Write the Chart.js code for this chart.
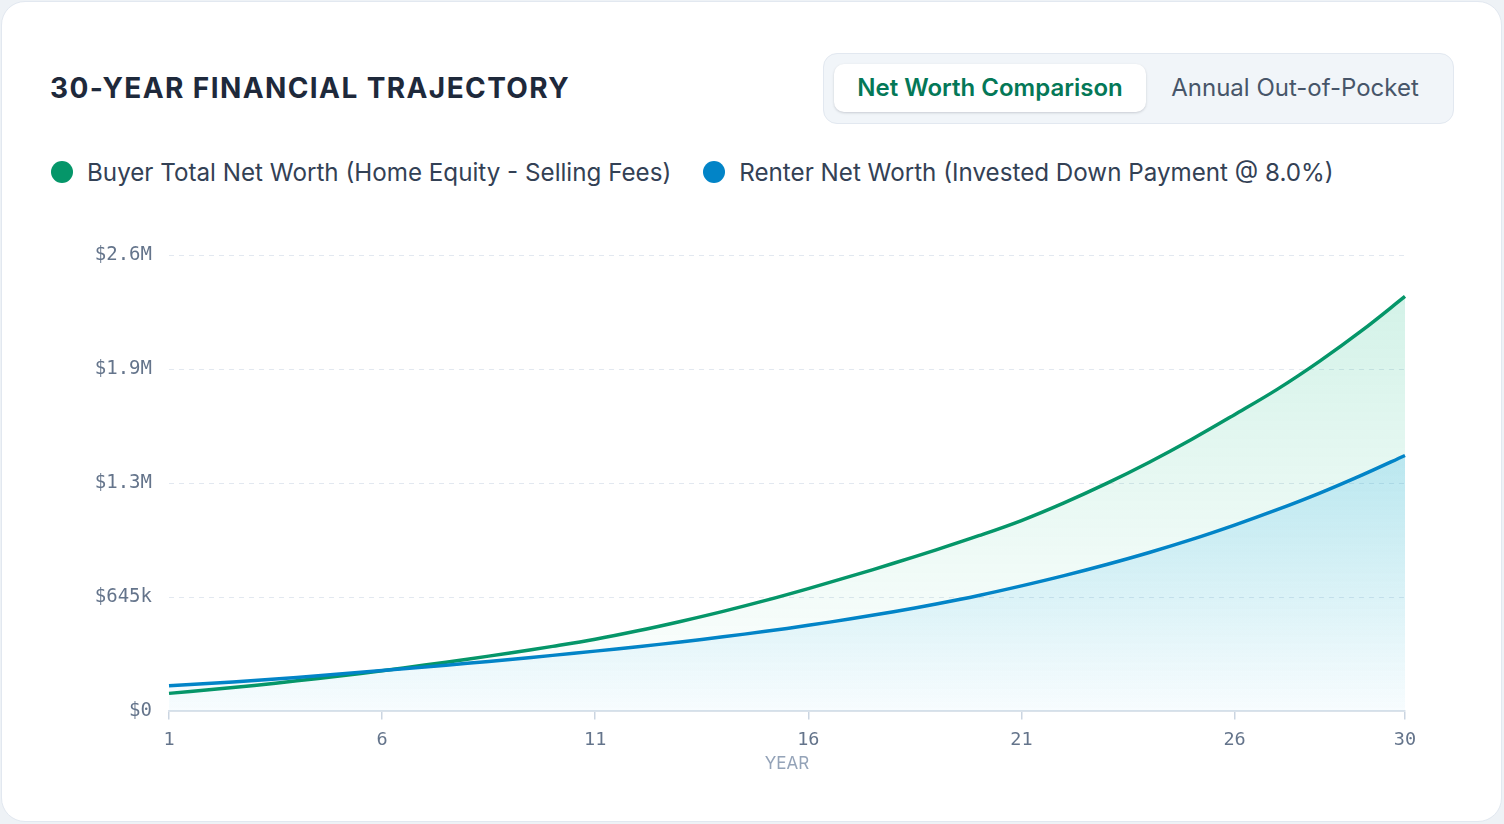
<!DOCTYPE html>
<html>
<head>
<meta charset="utf-8">
<title>30-Year Financial Trajectory</title>
<script src="https://cdn.jsdelivr.net/npm/chart.js@4.4.1/dist/chart.umd.min.js"></script>
<style>
  html, body { margin: 0; padding: 0; background: #eef2f6; }
  body { width: 1504px; height: 824px; overflow: hidden; position: relative; font-family: Inter, "Noto Sans", sans-serif; }
  .card { position: absolute; left: 1px; top: 1px; width: 1501px; height: 821px; box-sizing: border-box;
          background: #fff; border: 1.5px solid #e2e8f0; border-radius: 24px; }
  h2 { position: absolute; left: 50px; top: 70px; margin: 0; font-size: 28px; line-height: 36px;
       font-weight: 700; letter-spacing: 1.4px; color: #1e293b; }
  .toggle { position: absolute; left: 823px; top: 53px; width: 631px; height: 71px; box-sizing: border-box;
            background: #f1f5f9; border: 1.5px solid #e2e8f0; border-radius: 14px; }
  .toggle span { position: absolute; top: 10px; height: 48px; line-height: 48px; text-align: center; font-size: 24px; }
  .toggle .on { left: 10px; width: 312px; background: #fff; border-radius: 10px; color: #047857; font-weight: 600;
                box-shadow: 0 1px 3px rgba(15, 23, 42, 0.12), 0 1px 2px rgba(15, 23, 42, 0.06); }
  .toggle .off { left: 322px; width: 298px; color: #475569; }
  .legend { position: absolute; left: 51px; top: 156px; display: flex; gap: 32px; font-size: 24.2px; color: #334155; }
  .legend .item { display: flex; align-items: center; height: 32px; }
  .legend .dot { width: 22px; height: 22px; border-radius: 50%; margin-right: 14px; }
  .wrap { position: absolute; left: 50px; top: 227px; width: 1400px; height: 548px; }
</style>
</head>
<body>
<div class="card"></div>
<h2>30-YEAR FINANCIAL TRAJECTORY</h2>
<div class="toggle"><span class="on">Net Worth Comparison</span><span class="off">Annual Out-of-Pocket</span></div>
<div class="legend" id="legend"></div>
<div class="wrap"><canvas id="chart"></canvas></div>
<script>
// Values (dollars), one point per year.
const YEARS = [1, 2, 3, 4, 5, 6, 7, 8, 9, 10, 11, 12, 13, 14, 15,
               16, 17, 18, 19, 20, 21, 22, 23, 24, 25, 26, 27, 28, 29, 30];
const BUYER_NET_WORTH = [102000, 124000, 147000, 173000, 200000, 230000, 262000, 295000, 331000, 368000,
                         408000, 456000, 509000, 566000, 628000, 695000, 765000, 838000, 914000, 994000,
                         1080000, 1180000, 1290000, 1410000, 1540000, 1679000, 1822000, 1982000, 2157000, 2348000];
const RENTER_NET_WORTH = [145000, 159000, 175000, 192000, 211000, 231000, 251000, 272000, 294000, 317000,
                          341000, 366000, 393000, 422000, 453000, 487000, 524000, 564000, 608000, 656000,
                          710000, 768000, 831000, 899000, 973000, 1054000, 1141000, 1235000, 1338000, 1448000];
const Y_MAX = 2580000;
const Y_STEP = 645000;
const X_TICK_EVERY = 5;

const SERIES_NAMES = ["Buyer Total Net Worth (Home Equity - Selling Fees)", "Renter Net Worth (Invested Down Payment @ 8.0%)"];
const SERIES_COLORS = ["#059669", "#0284c7"];

function rgba(hex, a) {
  const n = parseInt(hex.slice(1), 16);
  return `rgba(${(n >> 16) & 255},${(n >> 8) & 255},${n & 255},${a})`;
}

// Vertical fade scoped to the chart area.
function fade(ctx, area, hex, top, bottom) {
  if (!area) return rgba(hex, top);
  const g = ctx.createLinearGradient(0, area.top, 0, area.bottom);
  g.addColorStop(0, rgba(hex, top));
  g.addColorStop(1, rgba(hex, bottom));
  return g;
}

function money(v) {
  if (v >= 1e6) return "$" + (v / 1e6).toFixed(1) + "M";
  if (v >= 1e3) return "$" + Math.round(v / 1e3) + "k";
  return "$" + v;
}

// html legend, buyer first
document.getElementById("legend").innerHTML = SERIES_NAMES.map((name, i) =>
  `<div class="item"><span class="dot" style="background:${SERIES_COLORS[i]}"></span>${name}</div>`).join("");

const MONO = "'DejaVu Sans Mono', 'Liberation Mono', monospace";

// renter listed first so its fill and line sit on top of the buyer's
new Chart(document.getElementById("chart"), {
  type: "line",
  data: {
    labels: YEARS,
    datasets: [
      {
        label: SERIES_NAMES[1],
        data: RENTER_NET_WORTH,
        borderColor: SERIES_COLORS[1],
        borderWidth: 3.5,
        tension: 0.35,
        pointRadius: 0,
        fill: "origin",
        backgroundColor: (c) => fade(c.chart.ctx, c.chart.chartArea, "#0ea5e9", 0.32, 0.03),
      },
      {
        label: SERIES_NAMES[0],
        data: BUYER_NET_WORTH,
        borderColor: SERIES_COLORS[0],
        borderWidth: 3.5,
        tension: 0.35,
        pointRadius: 0,
        fill: "origin",
        backgroundColor: (c) => fade(c.chart.ctx, c.chart.chartArea, "#10b981", 0.2, 0),
      },
    ],
  },
  options: {
    responsive: true,
    maintainAspectRatio: false,
    animation: false,
    layout: { padding: { top: 14, right: 45, bottom: 1, left: 0 } },
    plugins: {
      legend: { display: false },
      tooltip: { enabled: false },
      filler: { drawTime: "beforeDatasetsDraw" },
    },
    scales: {
      x: {
        offset: false,
        grid: { display: true, drawOnChartArea: false, drawTicks: true, tickLength: 8, color: "#cbd5e1", lineWidth: 1.5 },
        border: { display: true, color: "#dbe2ea", width: 2 },
        ticks: {
          autoSkip: false,
          maxRotation: 0,
          padding: 10,
          color: "#64748b",
          font: { family: MONO, size: 18.5 },
          callback: function (value, index) {
            return (index % X_TICK_EVERY === 0 || index === YEARS.length - 1) ? this.getLabelForValue(value) : null;
          },
        },
        title: { display: true, text: "YEAR", color: "#94a3b8", font: { family: "Inter", size: 17 }, padding: { top: -8, bottom: 0 } },
      },
      y: {
        min: 0,
        max: Y_MAX,
        grid: { color: "#e2e8f0", lineWidth: 1, drawTicks: false },
        border: { display: false, dash: [5, 5] },
        ticks: {
          stepSize: Y_STEP,
          padding: 17,
          color: "#64748b",
          font: { family: MONO, size: 19 },
          callback: (v) => money(v),
        },
        afterFit: (scale) => { scale.width = 119; },
      },
    },
  },
});
</script>
</body>
</html>
